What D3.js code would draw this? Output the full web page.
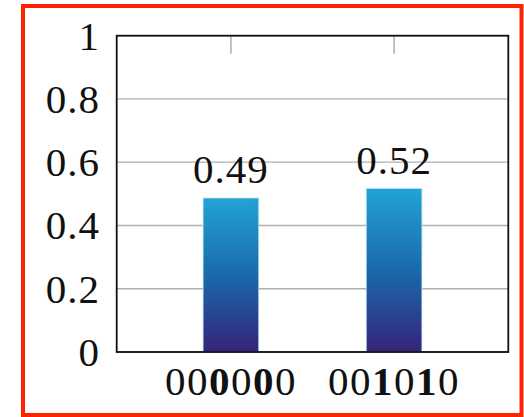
<!DOCTYPE html>
<html>
<head>
<meta charset="utf-8">
<script src="https://cdn.jsdelivr.net/npm/d3@7"></script>
<style>
  body { margin: 0; background: #fff; }
  text { font-family: "Liberation Serif", "Times New Roman", serif; fill: #111; }
</style>
</head>
<body>
<svg id="chart" width="524" height="417"></svg>
<script>
// data
var categories = ['000000', '001010'];
var boldDigits = [2, 4];          // positions drawn in bold in each tick label
var values = [0.49, 0.52];
var yTicks = [0, 0.2, 0.4, 0.6, 0.8, 1];

var svg = d3.select('#chart');

var plotLeft = 116.7, plotRight = 508.3, plotTop = 35.7, plotBottom = 352;

var x = d3.scalePoint()
    .domain(categories)
    .range([plotLeft, plotRight])
    .padding(0.7);

var y = d3.scaleLinear()
    .domain([0, 1])
    .range([plotBottom, plotTop]);

// gradient for bars
var defs = svg.append('defs');
var grad = defs.append('linearGradient')
    .attr('id', 'barGrad')
    .attr('x1', 0).attr('y1', 0)
    .attr('x2', 0).attr('y2', 1);
grad.append('stop').attr('offset', '0%').attr('stop-color', '#23a3d4');
grad.append('stop').attr('offset', '50%').attr('stop-color', '#1a6aab');
grad.append('stop').attr('offset', '100%').attr('stop-color', '#35237a');

// outer red frame
svg.append('rect')
    .attr('x', 23).attr('y', 6)
    .attr('width', 498.5).attr('height', 409)
    .attr('fill', 'none')
    .attr('stroke', '#ff2200')
    .attr('stroke-width', 4);

// grid lines
svg.append('g')
    .selectAll('line')
    .data(yTicks)
    .join('line')
    .attr('x1', plotLeft).attr('x2', plotRight)
    .attr('y1', function (d) { return y(d); })
    .attr('y2', function (d) { return y(d); })
    .attr('stroke', '#b0b0b0')
    .attr('stroke-width', 1.3);

// x ticks top and bottom
var tickLen = 18;
var xt = svg.append('g');
categories.forEach(function (c) {
    xt.append('line')
        .attr('x1', x(c)).attr('x2', x(c))
        .attr('y1', plotTop).attr('y2', plotTop + tickLen)
        .attr('stroke', '#a0a0a0').attr('stroke-width', 1.3);
    xt.append('line')
        .attr('x1', x(c)).attr('x2', x(c))
        .attr('y1', plotBottom).attr('y2', plotBottom - tickLen)
        .attr('stroke', '#a0a0a0').attr('stroke-width', 1.3);
});

// bars
var barWidth = 55.7;
svg.append('g')
    .selectAll('rect')
    .data(values)
    .join('rect')
    .attr('x', function (d, i) { return x(categories[i]) - barWidth / 2; })
    .attr('y', function (d) { return y(d) + 1; })
    .attr('width', barWidth)
    .attr('height', function (d) { return plotBottom - y(d) - 1; })
    .attr('fill', 'url(#barGrad)')
    .attr('stroke', '#bfe3f3')
    .attr('stroke-width', 0.8);

// value labels
svg.append('g')
    .selectAll('text')
    .data(values)
    .join('text')
    .attr('x', function (d, i) { return x(categories[i]); })
    .attr('y', function (d) { return y(d) - 14; })
    .attr('text-anchor', 'middle')
    .attr('font-size', 41)
    .attr('letter-spacing', 1)
    .text(function (d) { return d3.format('.2f')(d); });

// plot frame
svg.append('rect')
    .attr('x', plotLeft).attr('y', plotTop)
    .attr('width', plotRight - plotLeft).attr('height', plotBottom - plotTop)
    .attr('fill', 'none')
    .attr('stroke', '#111')
    .attr('stroke-width', 1.8);

// y tick labels
svg.append('g')
    .selectAll('text')
    .data(yTicks)
    .join('text')
    .attr('x', 100)
    .attr('y', function (d) { return y(d); })
    .attr('dy', '0.34em')
    .attr('text-anchor', 'end')
    .attr('font-size', 41)
    .attr('letter-spacing', 1)
    .text(function (d) { return d3.format('')(d); });

// x tick labels, some digits bold
var xl = svg.append('g')
    .selectAll('text')
    .data(categories)
    .join('text')
    .attr('x', function (d) { return x(d); })
    .attr('y', 395)
    .attr('text-anchor', 'middle')
    .attr('font-size', 41)
    .attr('letter-spacing', 1.5);

xl.each(function (d) {
    var t = d3.select(this);
    d.split('').forEach(function (ch, k) {
        t.append('tspan')
            .attr('font-weight', boldDigits.indexOf(k) >= 0 ? 'bold' : 'normal')
            .text(ch);
    });
});
</script>
</body>
</html>
